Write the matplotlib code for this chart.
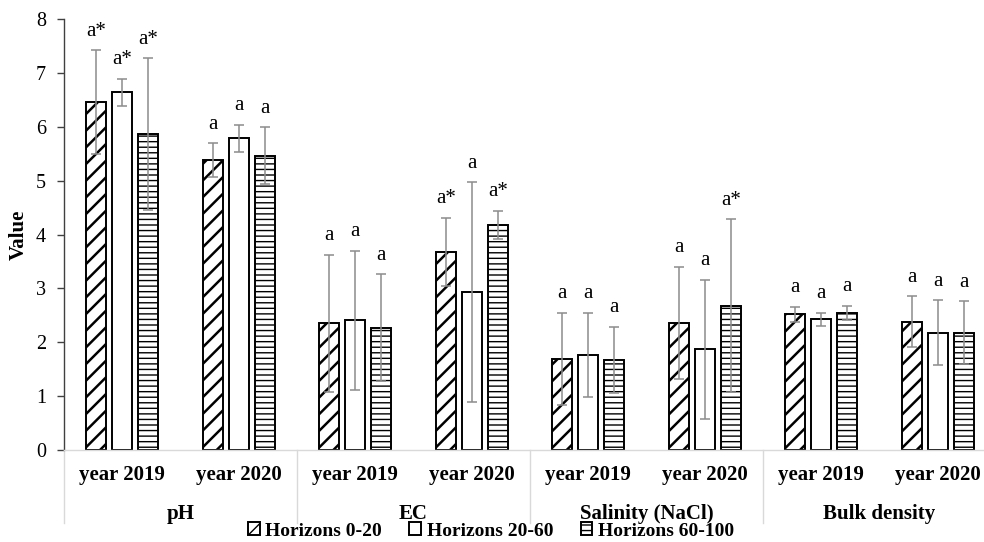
import matplotlib
matplotlib.use("Agg")
import matplotlib.pyplot as plt
import numpy as np
from matplotlib.patches import Patch

plt.rcParams['font.family'] = ['Liberation Serif', 'DejaVu Serif']

groups = ['pH', 'EC', 'Salinity (NaCl)', 'Bulk density']
years = ['year 2019', 'year 2020']
series_names = ['Horizons 0-20', 'Horizons 20-60', 'Horizons 60-100']

h0_20 = [6.46, 5.38, 2.35, 3.68, 1.69, 2.36, 2.52, 2.38]
h0_20_err = [0.96, 0.31, 1.27, 0.63, 0.85, 1.04, 0.14, 0.47]
h20_60 = [6.64, 5.79, 2.41, 2.93, 1.76, 1.87, 2.43, 2.18]
h20_60_err = [0.25, 0.25, 1.29, 2.04, 0.78, 1.29, 0.12, 0.60]
h60_100 = [5.86, 5.46, 2.27, 4.18, 1.67, 2.68, 2.54, 2.18]
h60_100_err = [1.41, 0.53, 0.99, 0.26, 0.62, 1.60, 0.13, 0.58]

lab0_20 = ['a*', 'a', 'a', 'a*', 'a', 'a', 'a', 'a']
lab20_60 = ['a*', 'a', 'a', 'a', 'a', 'a', 'a', 'a']
lab60_100 = ['a*', 'a', 'a', 'a*', 'a', 'a*', 'a', 'a']

W, H = 984, 542
fig = plt.figure(figsize=(W / 100, H / 100), dpi=100)
ax = fig.add_axes([64 / W, (H - 450) / H, (W - 64) / W, 431 / H])

n = len(h0_20)
x = np.arange(n)
bw = 0.172
step = 0.223

vals = [h0_20, h20_60, h60_100]
errs = [h0_20_err, h20_60_err, h60_100_err]
labs = [lab0_20, lab20_60, lab60_100]
hatches = ['//', '', '---']
hlw = [1.8, 1.0, 1.0]

for i in range(3):
    with plt.rc_context({'hatch.linewidth': hlw[i], 'hatch.color': 'black'}):
        ax.bar(x + (i - 1) * step, vals[i], width=bw, color='white',
               edgecolor='black', linewidth=1.4, hatch=hatches[i], zorder=2)
    ax.errorbar(x + (i - 1) * step, vals[i], yerr=errs[i], fmt='none',
                ecolor='#8c8c8c', elinewidth=1.1, capsize=3.5, capthick=1.1,
                zorder=3)
    for xi, v, e, t in zip(x + (i - 1) * step, vals[i], errs[i], labs[i]):
        ax.annotate(t, (xi, v + e), xytext=(0, 7), textcoords='offset points',
                    ha='center', va='bottom', fontsize=15, color='black')

ax.set_ylim(0, 8)
ax.set_yticks(range(0, 9))
ax.set_xlim(-0.5, -0.5 + (W - 64) / 116.5)
ax.set_xticks([])
for s in ['top', 'right']:
    ax.spines[s].set_visible(False)
ax.spines['left'].set_color('#404040')
ax.spines['left'].set_linewidth(1.0)
ax.spines['bottom'].set_color('#d9d9d9')
ax.spines['bottom'].set_linewidth(1.0)
ax.tick_params(axis='y', direction='out', length=5, width=1.0, color='#404040',
               pad=8, labelsize=14.5)

trans = ax.get_xaxis_transform()
for i in range(n):
    ax.text(x[i], -25 / 431, years[i % 2], transform=trans, ha='center',
            va='center', fontsize=15, fontweight='bold')
for g, name in enumerate(groups):
    ax.text(2 * g + 0.5, -64 / 431, name, transform=trans, ha='center',
            va='center', fontsize=15, fontweight='bold')
for b in [-0.5, 1.5, 3.5, 5.5]:
    ax.plot([b, b], [0, -73 / 431], transform=trans, color='#d9d9d9',
            linewidth=1.0, clip_on=False)

fig.text(19 / W, 1 - 234.5 / H, 'Value', rotation=90, ha='center', va='center',
         fontsize=15, fontweight='bold')

handles = []
for i in range(3):
    with plt.rc_context({'hatch.linewidth': hlw[i]}):
        handles.append(Patch(facecolor='white', edgecolor='black', linewidth=1.4,
                             hatch=hatches[i], label=series_names[i]))
leg = fig.legend(handles=handles, loc='center', bbox_to_anchor=(491 / W, 1 - 531 / H),
                 ncol=3, frameon=False, handlelength=0.6, handleheight=0.6,
                 handletextpad=0.3, columnspacing=1.4,
                 prop={'size': 14, 'weight': 'bold'}, borderpad=0)

fig.savefig('out.png', dpi=100)
